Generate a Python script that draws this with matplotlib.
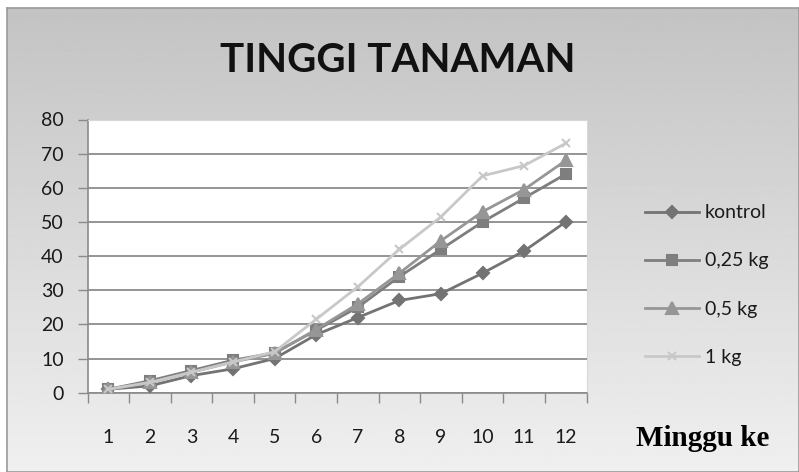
import matplotlib
matplotlib.use("Agg")
import matplotlib.pyplot as plt
import numpy as np

minggu = [1, 2, 3, 4, 5, 6, 7, 8, 9, 10, 11, 12]
kontrol = [1, 2, 5, 7, 10, 17, 22, 27, 29, 35, 41.5, 50]
dosis_025 = [1, 3.5, 6.5, 9.5, 11.7, 18.3, 25, 34, 42, 50, 57, 64]
dosis_05 = [1, 3, 6, 9, 11.5, 18.5, 26, 35, 44.5, 53, 59.5, 68]
dosis_1 = [1, 3, 6, 9, 12, 21.5, 31, 42, 51.5, 63.5, 66.5, 73]

series = [
    ("kontrol", kontrol, "D", "#737373", 6),
    ("0,25 kg", dosis_025, "s", "#7e7e7e", 7),
    ("0,5 kg", dosis_05, "^", "#969696", 8),
    ("1 kg", dosis_1, "x", "#c8c8c8", 6),
]

plt.rcParams['font.family'] = ['Lato', 'DejaVu Sans']

W, H = 799, 472
fig = plt.figure(figsize=(W / 100, H / 100), dpi=100)
fig.patch.set_facecolor("white")

# grey gradient chart background
bg = fig.add_axes([7 / W, 0, 1 - 7 / W, 1 - 8 / H], zorder=0)
grad = np.linspace(0, 1, 256).reshape(-1, 1)
bg.imshow(grad, aspect="auto", cmap="gray", vmin=-4.4, vmax=1.35,
          extent=[0, 1, 0, 1], origin="upper")
bg.set_xticks([])
bg.set_yticks([])
for s in bg.spines.values():
    s.set_color("#9a9a9a")
    s.set_linewidth(1.2)

ax = fig.add_axes([87.5 / W, 1 - 392.7 / H, 499 / W, (392.7 - 119.5) / H], zorder=1)
ax.set_facecolor("white")

for label, vals, mk, col, ms in series:
    ax.plot(minggu, vals, color=col, marker=mk, markersize=ms, linewidth=2,
            markeredgewidth=1.5, label=label, zorder=3)

ax.set_xlim(0.5, 12.5)
ax.set_ylim(0, 80)
ax.set_yticks(range(0, 81, 10))
ax.set_xticks(np.arange(0.5, 12.6, 1), minor=False)
ax.set_xticklabels([])
ax.set_xticks(minggu, minor=True)
ax.set_xticklabels([str(m) for m in minggu], minor=True)
ax.tick_params(axis="x", which="major", length=7, color="#8a8a8a", width=1)
ax.tick_params(axis="x", which="minor", length=0, pad=26, labelsize=14, labelcolor="#1a1a1a")
ax.tick_params(axis="y", length=7, color="#8a8a8a", width=1, pad=10,
               labelsize=14, labelcolor="#1a1a1a")
ax.grid(axis="y", color="#8c8c8c", linewidth=1.3, zorder=1)
ax.set_axisbelow(True)
for side in ("top", "right"):
    ax.spines[side].set_color("#d8d8d8")
for side in ("left", "bottom"):
    ax.spines[side].set_color("#8a8a8a")
    ax.spines[side].set_linewidth(1.2)

fig.text(398 / W, 1 - 61 / H, "TINGGI TANAMAN", fontsize=29, fontweight="bold",
         ha="center", va="center", color="#111111")
fig.text(703 / W, 1 - 438 / H, "Minggu ke", fontsize=21, fontweight="bold",
         family="Liberation Serif", ha="center", va="center", color="black")

leg = ax.legend(loc="center left", bbox_to_anchor=(627 / W, 1 - 285 / H),
                bbox_transform=fig.transFigure, frameon=False, fontsize=14,
                labelspacing=1.6, handlelength=2.8, handletextpad=0.3)
for t in leg.get_texts():
    t.set_color("#1a1a1a")

fig.savefig("out.png", dpi=100)
